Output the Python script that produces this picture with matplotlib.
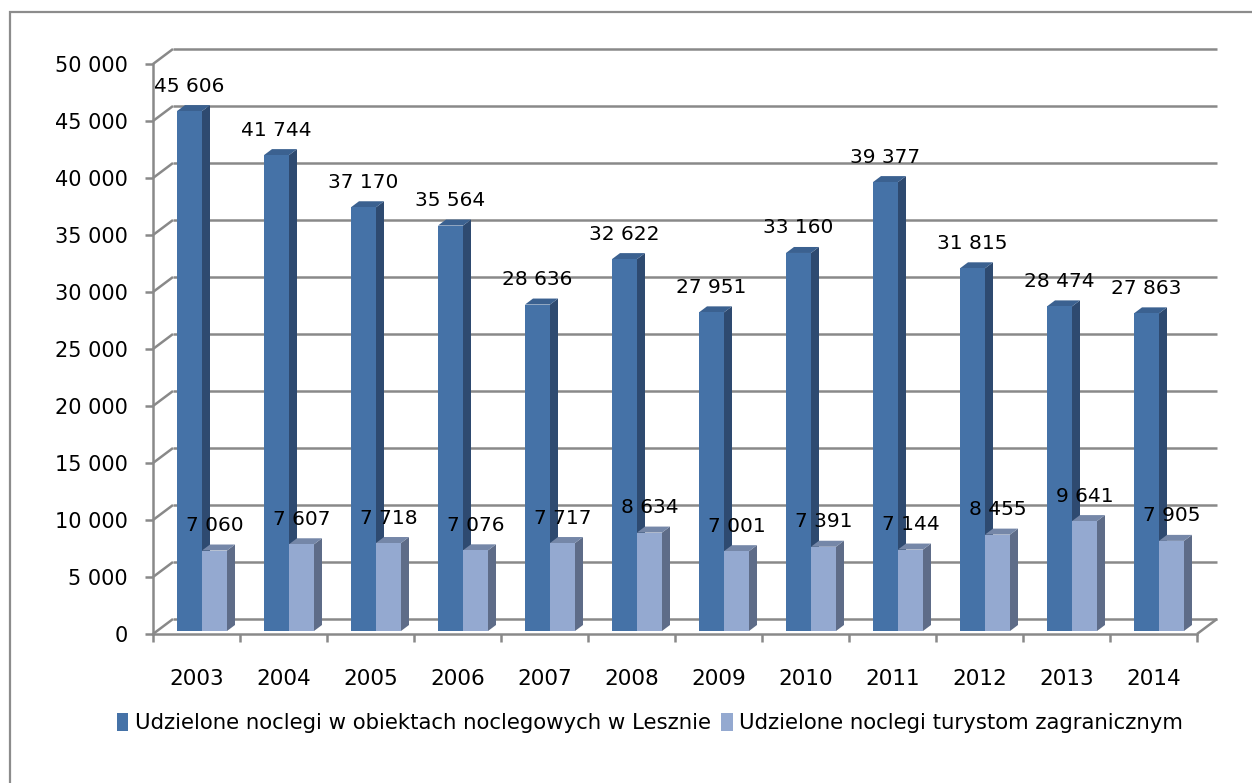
import matplotlib.pyplot as plt
from matplotlib.patches import Polygon, Patch, Rectangle
from matplotlib.transforms import offset_copy

lata = ["2003", "2004", "2005", "2006", "2007", "2008",
        "2009", "2010", "2011", "2012", "2013", "2014"]
noclegi_leszno = [45606, 41744, 37170, 35564, 28636, 32622,
                  27951, 33160, 39377, 31815, 28474, 27863]
noclegi_zagr = [7060, 7607, 7718, 7076, 7717, 8634,
                7001, 7391, 7144, 8455, 9641, 7905]
y_ticks = [0, 5000, 10000, 15000, 20000, 25000, 30000, 35000, 40000, 45000, 50000]
etykiety_serii = ["Udzielone noclegi w obiektach noclegowych w Lesznie",
                  "Udzielone noclegi turystom zagranicznym"]


def fmt(v):
    return f"{v:,}".replace(",", " ")


W, H = 1252, 783
fig = plt.figure(figsize=(W / 100, H / 100), dpi=100)
plt.rcParams['font.family'] = ['DejaVu Sans']

# plaszczyzna przednia osi (piksele)
x0, x1 = 153, 1197
y0, y1 = 634, 64
ax = fig.add_axes([x0 / W, (H - y0) / H, (x1 - x0) / W, (y0 - y1) / H])
ax.set_xlim(-0.5, 11.5)
ax.set_ylim(0, 50000)

px_x = (x1 - x0) / 12.0          # pikseli na kategorie
px_y = (y0 - y1) / 50000.0       # pikseli na jednostke

# glebokosc scian (w pikselach -> dane)
wall_dx, wall_dy = 20 / px_x, 15 / px_y
siatka = dict(color="#898989", lw=1.8, clip_on=False, zorder=1,
              solid_capstyle="butt")

for v in y_ticks:
    ax.plot([-0.5 + wall_dx, 11.5 + wall_dx], [v + wall_dy, v + wall_dy], **siatka)
    ax.plot([-0.5, -0.5 + wall_dx], [v, v + wall_dy], **siatka)
ax.plot([11.5, 11.5 + wall_dx], [0, wall_dy], **siatka)

# slupki 3D
tr_bar = offset_copy(ax.transData, fig=fig, x=5.5, y=3, units="dots")
bw = 25 / px_x
ddx, ddy = 8 / px_x, 6 / px_y

kolory = [("#4572a7", "#2e4a70", "#3b6190"),
          ("#94a9d0", "#5e6c88", "#7587a8")]

for s, (vals, (c_front, c_side, c_top)) in enumerate(zip([noclegi_leszno, noclegi_zagr], kolory)):
    for i, v in enumerate(vals):
        xl = i - bw + s * bw
        xr = xl + bw
        side = Polygon([(xr, 0), (xr + ddx, ddy), (xr + ddx, v + ddy), (xr, v)],
                       closed=True, fc=c_side, ec="none", transform=tr_bar,
                       clip_on=False, zorder=3 + i * 2 + s)
        top = Polygon([(xl, v), (xl + ddx, v + ddy), (xr + ddx, v + ddy), (xr, v)],
                      closed=True, fc=c_top, ec="none", transform=tr_bar,
                      clip_on=False, zorder=3 + i * 2 + s)
        front = Rectangle((xl, 0), bw, v, fc=c_front, ec="none", transform=tr_bar,
                          clip_on=False, zorder=3 + i * 2 + s)
        ax.add_patch(side)
        ax.add_patch(top)
        ax.add_patch(front)

tr_lab = offset_copy(ax.transData, fig=fig, x=5.5, y=3 + 25, units="dots")
for i in range(len(lata)):
    ax.text(i - bw / 2, noclegi_leszno[i], fmt(noclegi_leszno[i]), transform=tr_lab,
            ha="center", va="center", fontsize=14.5, zorder=50, clip_on=False)
    ax.text(i + bw / 2, noclegi_zagr[i], fmt(noclegi_zagr[i]), transform=tr_lab,
            ha="center", va="center", fontsize=14.5, zorder=50, clip_on=False)

# osie
for sp in ["top", "right"]:
    ax.spines[sp].set_visible(False)
for sp in ["left", "bottom"]:
    ax.spines[sp].set_color("#898989")
    ax.spines[sp].set_linewidth(1.8)
ax.patch.set_visible(False)

ax.set_yticks(y_ticks)
ax.set_yticklabels([fmt(v) for v in y_ticks], fontsize=15)
ax.tick_params(axis="y", direction="out", length=6, width=1.8, color="#898989", pad=12)

ax.set_xticks(range(len(lata)))
ax.set_xticklabels(lata, fontsize=15.5)
ax.set_xticks([i - 0.5 for i in range(len(lata) + 1)], minor=True)
ax.tick_params(axis="x", which="major", length=0, pad=25)
ax.tick_params(axis="x", which="minor", direction="out", length=6, width=1.8, color="#898989")

handles = [Patch(fc=kolory[0][0], ec="none"), Patch(fc=kolory[1][0], ec="none")]
fig.legend(handles, etykiety_serii, loc="center", bbox_to_anchor=(650 / W, 1 - 723 / H),
           ncol=2, frameon=False, fontsize=15.3, handlelength=0.55, handleheight=0.9,
           handletextpad=0.3, columnspacing=0.5)

# ramka wykresu
fig.add_artist(Rectangle((10 / W, -0.1), 1.2, (H - 12) / H + 0.1, transform=fig.transFigure,
                         fill=False, ec="#8c8c8c", lw=1.6))

fig.savefig("out.png", dpi=100)
